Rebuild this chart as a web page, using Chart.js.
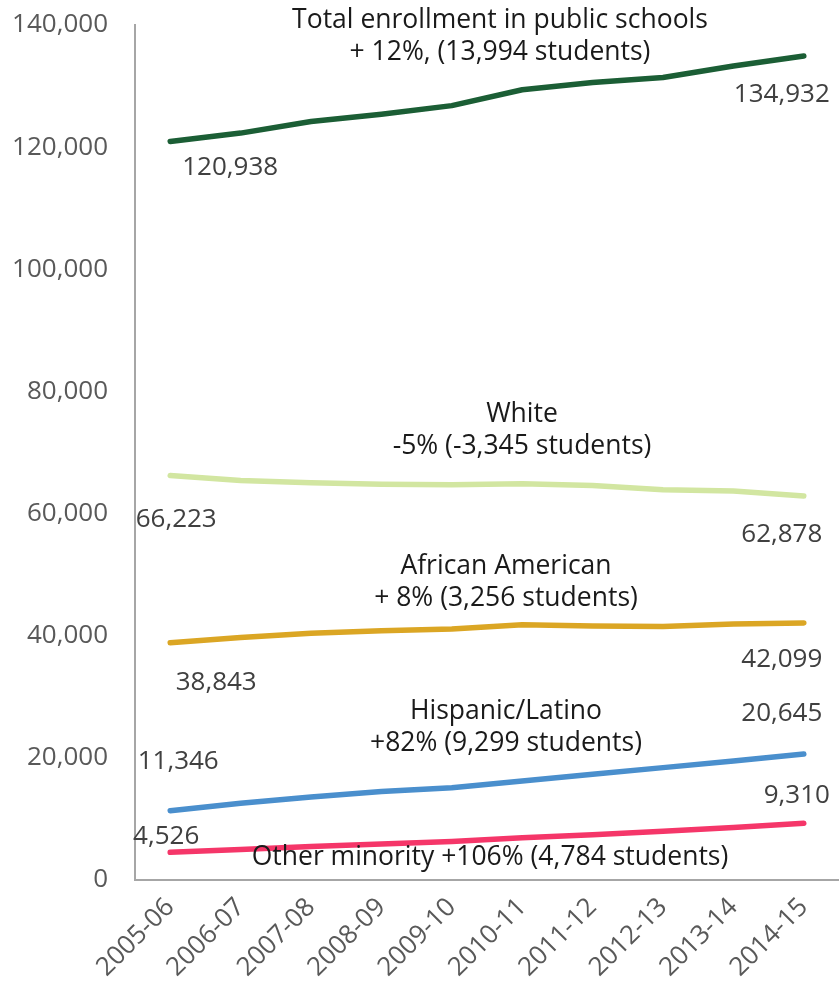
<!DOCTYPE html>
<html>
<head>
<meta charset="utf-8">
<script src="https://cdn.jsdelivr.net/npm/chart.js@4.4.0/dist/chart.umd.min.js"></script>
<style>
  html, body { margin: 0; padding: 0; background: #fff; }
</style>
</head>
<body>
<canvas id="myCanvas" width="839" height="993"></canvas>
<script>
const years = ["2005-06", "2006-07", "2007-08", "2008-09", "2009-10", "2010-11", "2011-12", "2012-13", "2013-14", "2014-15"];
const total = [120938, 122300, 124200, 125400, 126800, 129400, 130600, 131400, 133300, 134932];
const white = [66223, 65400, 65050, 64800, 64700, 64900, 64600, 63900, 63700, 62878];
const african = [38843, 39700, 40400, 40800, 41100, 41800, 41600, 41500, 41900, 42099];
const hispanic = [11346, 12550, 13600, 14500, 15100, 16200, 17300, 18400, 19500, 20645];
const other = [4526, 5000, 5500, 5900, 6300, 6900, 7400, 8000, 8600, 9310];

const FONT = "'Open Sans', 'Noto Sans', sans-serif";

// group captions (text only)
const captions = [
    ["Total enrollment in public schools", 500, 20],
    ["+ 12%, (13,994 students)", 500, 52],
    ["White", 522, 414],
    ["-5% (-3,345 students)", 522, 446],
    ["African American", 506, 566],
    ["+ 8% (3,256 students)", 506, 598],
    ["Hispanic/Latino", 506, 711],
    ["+82% (9,299 students)", 506, 743],
    ["Other minority +106% (4,784 students)", 490, 857]
];

// start / end value labels: dataset index, point index, dx, dy from point
const valueLabels = [
    [0, 0, 60, 26], [0, 9, -22, 39],
    [1, 0, 6, 44], [1, 9, -22, 39],
    [2, 0, 46, 40], [2, 9, -22, 37],
    [3, 0, 8, -49], [3, 9, -22, -40],
    [4, 0, -4, -16], [4, 9, -7, -28]
];

const textPlugin = {
    id: "texts",
    afterDatasetsDraw(chart) {
        const c = chart.ctx;
        const xs = chart.scales.x, ys = chart.scales.y;
        c.save();
        c.font = "26.5px " + FONT;
        c.textAlign = "center";
        c.textBaseline = "middle";
        c.fillStyle = "#1a1a1a";
        captions.forEach(([t, x, y]) => c.fillText(t, x, y));
        c.fillStyle = "#404040";
        c.font = "26px " + FONT;
        valueLabels.forEach(([d, i, dx, dy]) => {
            const v = chart.data.datasets[d].data[i];
            const px = xs.getPixelForValue(i) + dx;
            const py = ys.getPixelForValue(v) + dy;
            c.fillText(v.toLocaleString("en-US"), px, py);
        });
        c.restore();
    }
};

function line(label, data, color) {
    return {
        label: label,
        data: data,
        borderColor: color,
        backgroundColor: color,
        borderWidth: 5.5,
        pointRadius: 0,
        tension: 0,
        borderCapStyle: "round",
        borderJoinStyle: "round"
    };
}

const ctx = document.getElementById("myCanvas").getContext("2d");
var chart = new Chart(ctx, {
    type: "line",
    data: {
        labels: years,
        datasets: [
            line("Total enrollment in public schools", total, "#1b5e35"),
            line("White", white, "#d2e6a1"),
            line("African American", african, "#dba624"),
            line("Hispanic/Latino", hispanic, "#4a8fcd"),
            line("Other minority", other, "#f53669")
        ]
    },
    options: {
        responsive: false,
        animation: false,
        layout: { padding: { top: 25, left: 0, right: 0, bottom: 0 } },
        plugins: {
            legend: { display: false },
            tooltip: { enabled: false }
        },
        scales: {
            x: {
                offset: true,
                grid: { display: false, drawTicks: false },
                border: { display: true, color: "#a6a6a6", width: 2 },
                ticks: {
                    color: "#595959",
                    font: { family: FONT, size: 26 },
                    minRotation: 45,
                    maxRotation: 45,
                    padding: 12,
                    autoSkip: false
                },
                afterFit(scale) {
                    scale.height = 113;
                    scale.paddingLeft = 0;
                    scale.paddingRight = 0;
                }
            },
            y: {
                min: 0,
                max: 140000,
                grid: { display: false, drawTicks: false },
                border: { display: true, color: "#a6a6a6", width: 2 },
                ticks: {
                    stepSize: 20000,
                    color: "#595959",
                    font: { family: FONT, size: 26 },
                    padding: 27,
                    callback: (v) => v.toLocaleString("en-US")
                },
                afterFit(scale) {
                    scale.width = 135;
                    scale.paddingTop = 0;
                    scale.paddingBottom = 0;
                }
            }
        }
    },
    plugins: [textPlugin]
});
</script>
</body>
</html>
